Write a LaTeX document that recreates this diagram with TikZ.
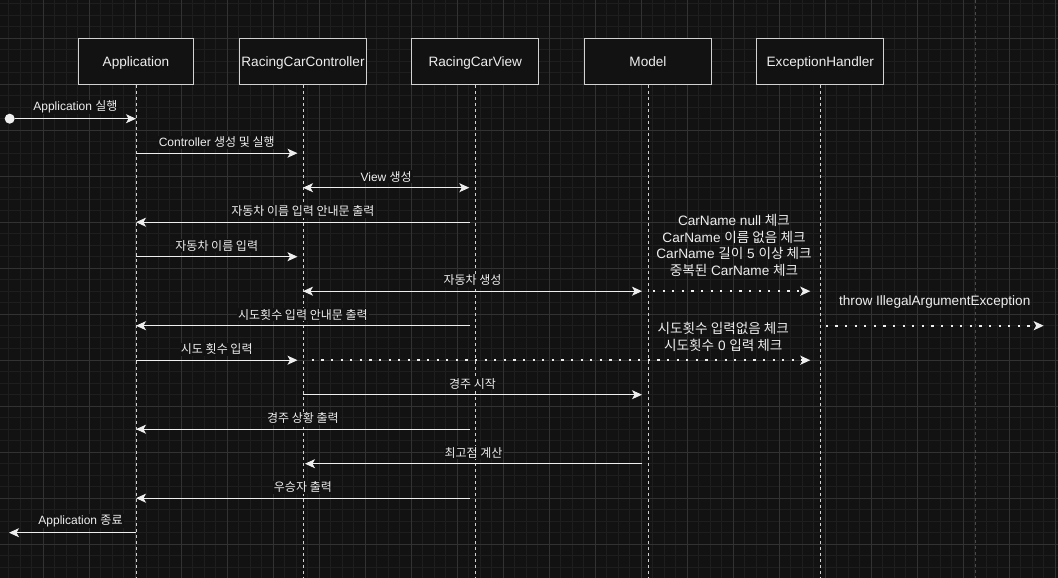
\documentclass[tikz,border=0pt]{standalone}
\usepackage{fontspec}
\setmainfont{Liberation Sans}
\newfontfamily\krfont{Noto Sans CJK KR}
\usetikzlibrary{arrows.meta,calc}
\definecolor{bg}{HTML}{121212}
\definecolor{minorgrid}{HTML}{1E1E1E}
\definecolor{majorgrid}{HTML}{323232}
\definecolor{ink}{HTML}{EEEEEE}
\definecolor{boxline}{HTML}{D2D2D2}
\definecolor{pageline}{HTML}{4A4A4A}

\begin{document}
\begin{tikzpicture}[x=1pt, y=-1pt,
	actor/.style={draw=boxline, fill=bg, line width=1pt, minimum width=127pt, minimum height=46pt, inner sep=0pt, text height=11pt, text depth=0pt, text=ink, font=\fontsize{13.6}{16}\selectfont},
	lifeline/.style={draw=boxline, line width=1pt, dash pattern=on 3pt off 3pt},
	msg/.style={draw=ink, line width=1pt, -{Stealth[length=10pt, width=9pt, inset=2.5pt]}},
	both/.style={msg, {Stealth[length=10pt, width=9pt, inset=2.5pt]}-{Stealth[length=10pt, width=9pt, inset=2.5pt]}},
	dots/.style={draw=ink, line width=2.2pt, dash pattern=on 2.2pt off 7.4pt, -{Stealth[length=10pt, width=9pt, inset=2.5pt]}},
	lbl/.style={fill=bg, inner sep=1pt, text=ink, font=\fontsize{12}{14}\selectfont},
	note/.style={text=ink, align=center, inner sep=0pt, font=\fontsize{13.6}{16.6}\selectfont}]
	\path [use as bounding box, fill=bg] (0,0) rectangle (1058,578);
	% grid
	\foreach \x in {8.8,20.3,...,1058} \draw[minorgrid, line width=0.8pt] (\x,0) -- (\x,578);
	\foreach \y in {3.8,15.3,...,578} \draw[minorgrid, line width=0.8pt] (0,\y) -- (1058,\y);
	\foreach \x in {43.3,89.3,...,1058} \draw[majorgrid, line width=0.8pt] (\x,0) -- (\x,578);
	\foreach \y in {38.3,84.3,...,578} \draw[majorgrid, line width=0.8pt] (0,\y) -- (1058,\y);
	\draw[pageline, line width=1pt, dash pattern=on 3pt off 3pt] (975.7,0) -- (975.7,578);
	% participants
	\node[actor, minimum width=115pt] (app) at (136,61.3) {Application};
	\node[actor] (ctrl) at (303,61.3) {RacingCarController};
	\node[actor] (view) at (475.3,61.3) {RacingCarView};
	\node[actor] (model) at (648,61.3) {Model};
	\node[actor] (exh) at (820.3,61.3) {ExceptionHandler};
	\coordinate (bottom) at (0,578);
	\foreach \p in {app,ctrl,view,model,exh}
		\draw[lifeline] (\p.south) -- (\p |- bottom);
	% message rows
	\foreach \r/\y in {1/118.7,2/153.2,3/187.7,4/222.2,5/256.7,6/291.2,7/325.7,8/360.2,9/394.7,10/429.2,11/463.7,12/498.2,13/532.7}
		\coordinate (r\r) at (0,\y);
	\node[circle, fill=ink, inner sep=0pt, minimum size=10pt] (init) at (9.7,118.7) {};
	\coordinate (fin) at (9,532.7);
	\coordinate (out) at (1043.7,325.7);
	\draw[msg] (init) -- (app |- r1) node[lbl, midway, above=4pt] {Application {\krfont 실행}};
	\draw[msg] (app |- r2) -- ([xshift=-5.5pt]ctrl |- r2) node[lbl, midway, above=4pt] {Controller {\krfont 생성 및 실행}};
	\draw[both] (ctrl |- r3) -- ([xshift=-6pt]view |- r3) node[lbl, midway, above=4pt] {View {\krfont 생성}};
	\draw[msg] ([xshift=-5.5pt]view |- r4) -- (app |- r4) node[lbl, midway, above=4pt] {\krfont 자동차 이름 입력 안내문 출력};
	\draw[msg] (app |- r5) -- ([xshift=-5.5pt]ctrl |- r5) node[lbl, midway, above=4pt] {\krfont 자동차 이름 입력};
	\draw[both] (ctrl |- r6) -- ([xshift=-6pt]model |- r6) node[lbl, midway, above=4pt] {\krfont 자동차 생성};
	\draw[dots] ([xshift=5pt]model |- r6) -- ([xshift=-10pt]exh |- r6);
	\node[note] (carchk) at (734,245.5) {CarName null {\krfont 체크}\\CarName {\krfont 이름 없음 체크}\\CarName {\krfont 길이} 5 {\krfont 이상 체크}\\{\krfont 중복된} CarName {\krfont 체크}};
	\draw[dots] ([xshift=5.5pt]exh |- r7) -- (out) node[note, midway, above=16pt] {throw IllegalArgumentException};
	\draw[msg] ([xshift=-5.5pt]view |- r7) -- (app |- r7) node[lbl, midway, above=4pt] {\krfont 시도횟수 입력 안내문 출력};
	\draw[msg] (app |- r8) -- ([xshift=-5.5pt]ctrl |- r8) node[lbl, midway, above=4pt] {\krfont 시도 횟수 입력};
	\draw[dots] ([xshift=8.7pt]ctrl |- r8) -- ([xshift=-10pt]exh |- r8);
	\node[note] (trychk) at (723.3,337) {\krfont 시도횟수 입력없음 체크\\{\krfont 시도횟수} 0 {\krfont 입력 체크}};
	\draw[msg] (ctrl |- r9) -- ([xshift=-6pt]model |- r9) node[lbl, midway, above=4pt] {\krfont 경주 시작};
	\draw[msg] ([xshift=-5.5pt]view |- r10) -- (app |- r10) node[lbl, midway, above=4pt] {\krfont 경주 상황 출력};
	\draw[msg] ([xshift=-6pt]model |- r11) -- ([xshift=2pt]ctrl |- r11) node[lbl, midway, above=4pt] {\krfont 최고점 계산};
	\draw[msg] ([xshift=-5.5pt]view |- r12) -- (app |- r12) node[lbl, midway, above=4pt] {\krfont 우승자 출력};
	\draw[msg] (app |- r13) -- (fin) node[lbl, midway, above=4pt, xshift=8pt] {Application {\krfont 종료}};
\end{tikzpicture}
\end{document}
